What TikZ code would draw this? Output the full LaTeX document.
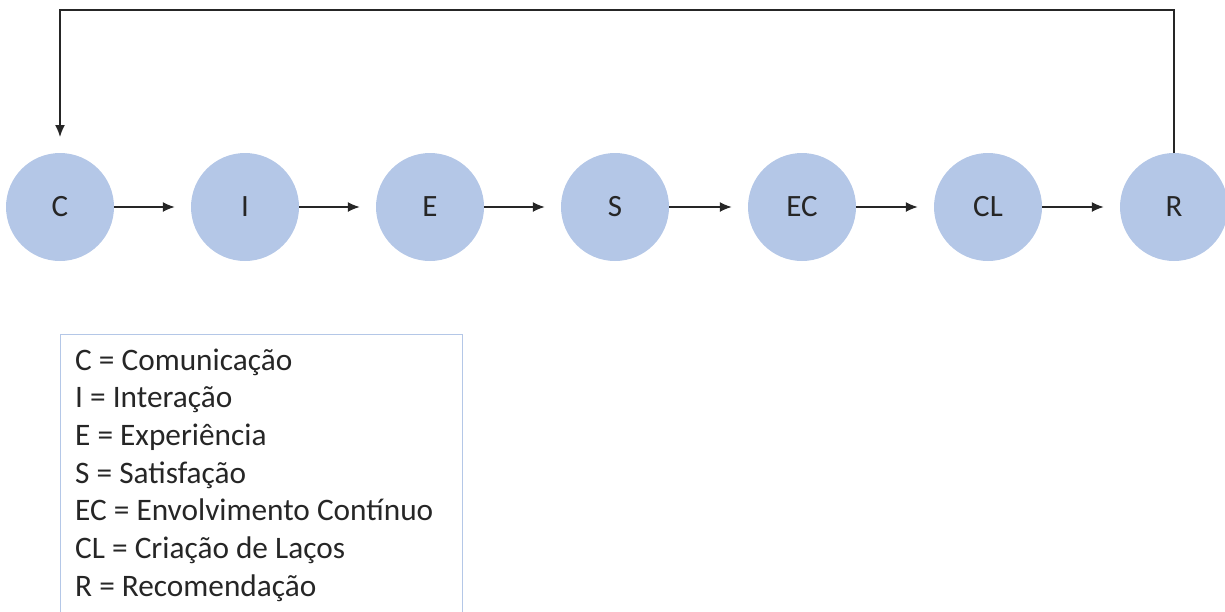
\documentclass[tikz,border=0pt]{standalone}
\usepackage{fontspec}
\setmainfont{Carlito}
\usetikzlibrary{arrows.meta}
\definecolor{circ}{HTML}{B4C7E7}
\definecolor{txt}{HTML}{262626}
\begin{document}
\begin{tikzpicture}[x=1pt,y=-1pt,
  stage/.style={circle,fill=circ,minimum size=108pt,inner sep=0pt,font=\fontsize{31}{36}\selectfont,text=txt},
  conn/.style={line width=1.5pt,draw=black!85,-{Latex[length=12pt,width=10pt]}},
  legend/.style={draw=circ,line width=1.2pt,rectangle,inner sep=0pt},
  ltext/.style={anchor=base west,inner sep=0pt,font=\fontsize{31.3}{36}\selectfont,text=txt}]
\useasboundingbox (0,0) rectangle (1225,611);
\clip (0,0) rectangle (1225,611);
\node[stage] (C) at (60,207) {C};
\node[stage] (I) at (245,207) {I};
\node[stage] (E) at (430,207) {E};
\node[stage] (S) at (615,207) {S};
\node[stage] (EC) at (802,207) {EC};
\node[stage] (CL) at (988,207) {CL};
\node[stage] (R) at (1174,207) {R};
\foreach \a/\b in {C/I,I/E,E/S,S/EC,EC/CL,CL/R}{
  \draw[conn,shorten >=16pt] (\a) -- (\b);
}
\coordinate (top) at (60,137);
\draw[conn] (R.north) |- (60,10) -- (top);
\node[legend,minimum width=402pt,minimum height=320pt,anchor=north west] (L) at (60,334) {};
\node[ltext] (L1) at (75,370) {C = Comunicação};
\node[ltext] (L2) at (75,407.7) {I = Interação};
\node[ltext] (L3) at (75,445.4) {E = Experiência};
\node[ltext] (L4) at (75,483.1) {S = Satisfação};
\node[ltext] (L5) at (75,520.8) {EC = Envolvimento Contínuo};
\node[ltext] (L6) at (75,558.5) {CL = Criação de Laços};
\node[ltext] (L7) at (75,596.2) {R = Recomendação};
\end{tikzpicture}
\end{document}
